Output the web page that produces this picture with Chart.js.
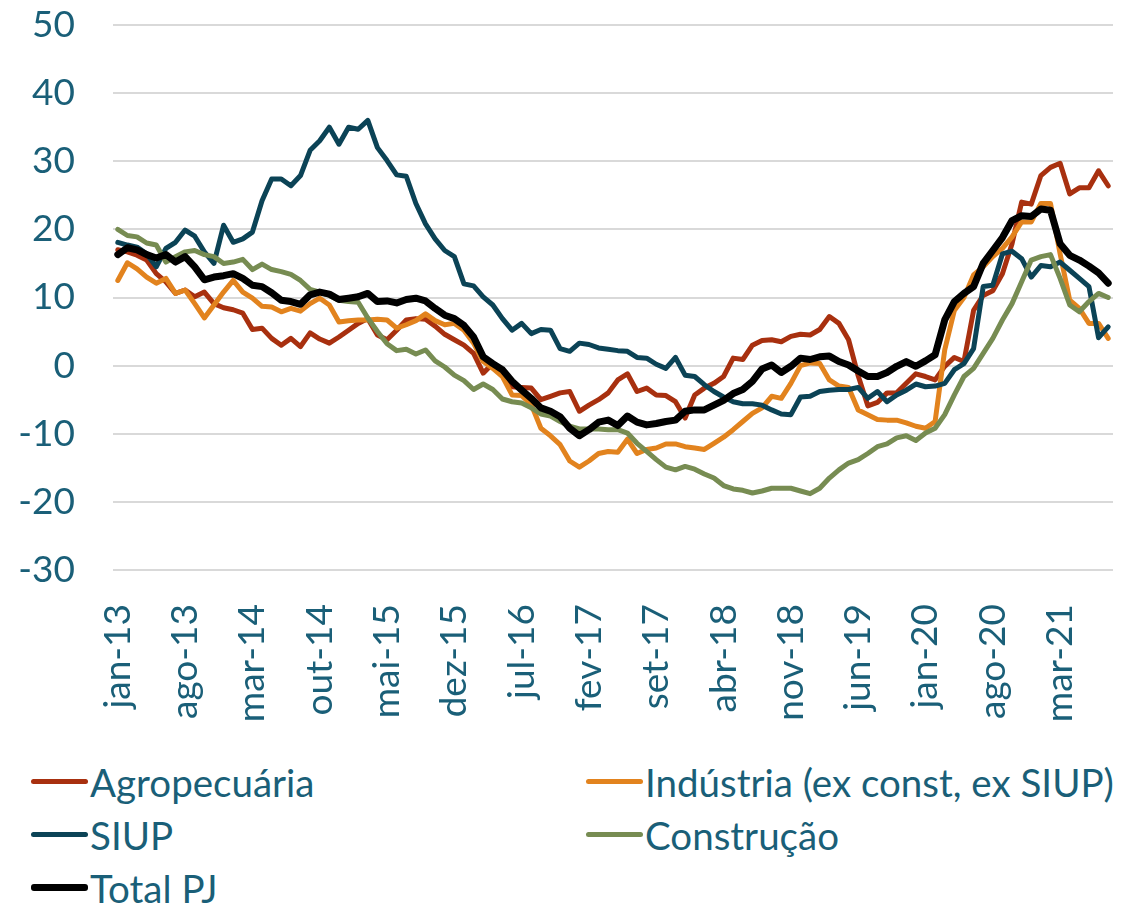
<!DOCTYPE html>
<html>
<head>
<meta charset="utf-8">
<script src="https://cdn.jsdelivr.net/npm/chart.js@4.4.1/dist/chart.umd.min.js"></script>
<style>
  body { margin: 0; background: #fff; font-family: Lato, sans-serif; }
  #wrap { position: relative; width: 1132px; height: 903px; }
  #box { position: absolute; left: 0; top: 0; width: 1132px; height: 745px; }
  #legend { position: absolute; left: 31px; top: 755px; display: grid;
            grid-template-columns: 555px auto; grid-auto-rows: 53px; }
  .item { display: flex; align-items: center; font-size: 38.5px; color: #1a5f78; white-space: nowrap; }
  .swatch { display: inline-block; width: 57px; margin-right: 2px; border-radius: 3px; }
</style>
</head>
<body>
<div id="wrap">
  <div id="box"><canvas id="chart"></canvas></div>
  <div id="legend"></div>
</div>
<script>
// meses jan-13 .. ago-21
const monthNames = ['jan', 'fev', 'mar', 'abr', 'mai', 'jun', 'jul', 'ago', 'set', 'out', 'nov', 'dez'];
const labels = [];
for (let y = 13; y <= 21; y++) {
    for (let m = 0; m < 12; m++) {
        if (y === 21 && m > 7) break;
        labels.push(monthNames[m] + '-' + y);
    }
}

const agro = [
    17.0, 16.7, 16.2, 15.5, 13.5, 12.3, 10.6, 11.1, 10.1, 10.8,
    9.1, 8.5, 8.2, 7.7, 5.3, 5.5, 4.0, 3.0, 4.0, 2.8,
    4.8, 3.9, 3.3, 4.2, 5.2, 6.2, 6.9, 4.5, 3.8, 5.2,
    6.7, 6.9, 6.8, 5.8, 4.6, 3.8, 3.0, 1.8, -1.1, 0.3,
    -1.4, -3.1, -3.2, -3.3, -5.0, -4.5, -4.0, -3.8, -6.7, -5.8,
    -5.0, -4.0, -2.1, -1.2, -3.8, -3.3, -4.3, -4.4, -5.3, -7.7,
    -4.3, -3.3, -2.6, -1.6, 1.1, 0.9, 3.0, 3.7, 3.8, 3.5,
    4.3, 4.6, 4.5, 5.3, 7.2, 6.2, 3.8, -1.5, -5.9, -5.4,
    -4.0, -4.0, -2.6, -1.2, -1.6, -2.1, -0.1, 1.2, 0.6, 8.1,
    10.3, 11.0, 13.5, 17.9, 24.0, 23.7, 27.9, 29.1, 29.7, 25.2,
    26.1, 26.1, 28.6, 26.4
];

const industria = [
    12.5, 15.1, 14.2, 13.0, 12.1, 12.8, 10.6, 11.1, 9.1, 7.0,
    8.9, 10.8, 12.5, 10.8, 9.9, 8.7, 8.6, 7.9, 8.4, 8.0,
    9.1, 9.9, 8.9, 6.4, 6.6, 6.7, 6.7, 6.8, 6.7, 5.5,
    6.0, 6.6, 7.6, 6.6, 6.0, 6.2, 5.2, 3.3, 0.6, -0.4,
    -1.6, -4.3, -4.4, -5.7, -9.2, -10.3, -11.6, -14.0, -14.9, -14.0,
    -12.9, -12.6, -12.7, -10.8, -12.9, -12.3, -12.1, -11.5, -11.5, -11.9,
    -12.1, -12.3, -11.4, -10.5, -9.4, -8.2, -7.0, -6.2, -4.5, -4.8,
    -2.6, 0.0, 0.4, 0.3, -2.1, -3.0, -3.2, -6.5, -7.2, -7.9,
    -8.0, -8.0, -8.4, -8.9, -9.2, -8.2, 2.3, 8.1, 10.0, 13.3,
    14.5, 16.0, 17.2, 18.9, 21.1, 21.1, 23.8, 23.8, 16.4, 9.6,
    8.4, 6.2, 6.2, 4.0
];

const siup = [
    18.1, 17.7, 17.4, 16.4, 14.5, 17.2, 18.1, 19.9, 19.0, 16.7,
    15.0, 20.6, 18.1, 18.6, 19.6, 24.2, 27.4, 27.4, 26.4, 27.9,
    31.6, 33.0, 35.0, 32.5, 35.0, 34.7, 36.0, 32.0, 30.1, 28.0,
    27.8, 23.8, 20.8, 18.6, 16.9, 16.0, 12.0, 11.7, 10.1, 8.9,
    6.9, 5.2, 6.2, 4.7, 5.3, 5.2, 2.5, 2.1, 3.3, 3.1,
    2.6, 2.4, 2.2, 2.1, 1.2, 1.1, 0.2, -0.4, 1.2, -1.4,
    -1.6, -2.8, -3.8, -4.6, -5.3, -5.6, -5.6, -5.8, -6.5, -7.1,
    -7.2, -4.6, -4.5, -3.8, -3.6, -3.5, -3.5, -3.2, -4.8, -3.8,
    -5.3, -4.3, -3.6, -2.7, -3.1, -3.0, -2.6, -0.6, 0.3, 2.5,
    11.6, 11.8, 16.4, 16.8, 15.7, 13.0, 14.7, 14.5, 15.2, 14.0,
    12.8, 11.6, 4.1, 5.7
];

const construcao = [
    20.0, 19.1, 18.9, 18.0, 17.7, 15.2, 16.0, 16.7, 16.9, 16.3,
    16.0, 15.0, 15.2, 15.6, 14.1, 14.9, 14.1, 13.8, 13.4, 12.5,
    11.2, 10.8, 10.3, 9.6, 9.4, 9.3, 7.0, 5.0, 3.2, 2.2,
    2.4, 1.7, 2.3, 0.7, -0.2, -1.4, -2.2, -3.5, -2.7, -3.5,
    -4.9, -5.3, -5.5, -6.2, -7.1, -7.4, -8.2, -8.9, -9.3, -9.3,
    -9.3, -9.4, -9.4, -9.9, -11.4, -12.6, -13.8, -14.9, -15.3, -14.8,
    -15.2, -15.9, -16.5, -17.6, -18.1, -18.3, -18.7, -18.4, -18.0, -18.0,
    -18.0, -18.4, -18.8, -18.0, -16.5, -15.3, -14.3, -13.8, -12.9, -11.9,
    -11.5, -10.6, -10.3, -11.0, -9.9, -9.2, -7.2, -4.3, -1.6, -0.4,
    1.8, 4.0, 6.7, 9.1, 12.3, 15.5, 16.0, 16.3, 12.8, 8.9,
    7.9, 9.4, 10.6, 10.0
];

const totalPJ = [
    16.3, 17.3, 17.0, 16.3, 15.8, 16.3, 15.2, 16.0, 14.5, 12.6,
    13.0, 13.2, 13.5, 12.8, 11.8, 11.6, 10.7, 9.6, 9.4, 9.0,
    10.4, 10.8, 10.5, 9.7, 9.9, 10.1, 10.6, 9.4, 9.5, 9.2,
    9.7, 9.9, 9.5, 8.4, 7.4, 6.9, 5.9, 4.2, 1.3, 0.3,
    -0.6, -2.3, -3.6, -4.8, -6.2, -6.7, -7.5, -9.2, -10.3, -9.4,
    -8.3, -8.0, -8.8, -7.4, -8.3, -8.7, -8.5, -8.2, -8.0, -6.7,
    -6.5, -6.5, -5.8, -5.1, -4.1, -3.5, -2.3, -0.5, 0.1, -1.0,
    -0.1, 1.1, 0.9, 1.3, 1.4, 0.6, 0.1, -0.8, -1.6, -1.6,
    -1.0, -0.1, 0.6, -0.1, 0.7, 1.6, 6.7, 9.4, 10.6, 11.6,
    15.0, 16.9, 18.8, 21.3, 22.0, 21.9, 23.0, 22.8, 17.9, 16.2,
    15.5, 14.6, 13.6, 12.1
];

const tickColor = '#1a5f78';

const series = [
    { label: 'Agropecuária', data: agro, color: '#a8300f', width: 5, order: 4 },
    { label: 'Indústria (ex const, ex SIUP)', data: industria, color: '#e2831e', width: 5, order: 3 },
    { label: 'SIUP', data: siup, color: '#0b4356', width: 5, order: 2 },
    { label: 'Construção', data: construcao, color: '#778c52', width: 5, order: 1 },
    { label: 'Total PJ', data: totalPJ, color: '#000000', width: 7, order: 0 }
];

const ctx = document.getElementById('chart').getContext('2d');
const chart = new Chart(ctx, {
    type: 'line',
    data: {
        labels: labels,
        datasets: series.map(s => ({
            label: s.label,
            data: s.data,
            borderColor: s.color,
            backgroundColor: s.color,
            borderWidth: s.width,
            pointRadius: 0,
            tension: 0,
            order: s.order,
            borderJoinStyle: 'round',
            borderCapStyle: 'round'
        }))
    },
    options: {
        responsive: true,
        maintainAspectRatio: false,
        animation: false,
        layout: { padding: { top: 25, right: 19, left: 0, bottom: 0 } },
        scales: {
            x: {
                offset: true,
                grid: { display: false },
                border: { display: false },
                ticks: {
                    autoSkip: false,
                    minRotation: 90,
                    maxRotation: 90,
                    padding: 26,
                    color: tickColor,
                    font: { family: 'Lato', size: 37 },
                    callback: function(value, index) {
                        return index % 7 === 0 ? this.getLabelForValue(value) : '';
                    }
                },
                afterFit: function(scale) {
                    scale.height = 175;
                    scale.paddingLeft = 0;
                    scale.paddingRight = 0;
                }
            },
            y: {
                min: -30,
                max: 50,
                ticks: {
                    stepSize: 10,
                    padding: 38,
                    color: tickColor,
                    font: { family: 'Lato', size: 37 }
                },
                grid: { color: '#d9d9d9', lineWidth: 2, drawTicks: false },
                border: { display: false },
                afterFit: function(scale) {
                    scale.width = 113;
                    scale.paddingTop = 0;
                    scale.paddingBottom = 0;
                }
            }
        },
        plugins: {
            legend: { display: false },
            tooltip: { enabled: false }
        }
    }
});

// legenda em duas colunas
const legendEl = document.getElementById('legend');
series.forEach(function(s) {
    const item = document.createElement('div');
    item.className = 'item';
    const sw = document.createElement('span');
    sw.className = 'swatch';
    sw.style.background = s.color;
    sw.style.height = s.width + 'px';
    item.appendChild(sw);
    item.appendChild(document.createTextNode(s.label));
    legendEl.appendChild(item);
});
</script>
</body>
</html>
